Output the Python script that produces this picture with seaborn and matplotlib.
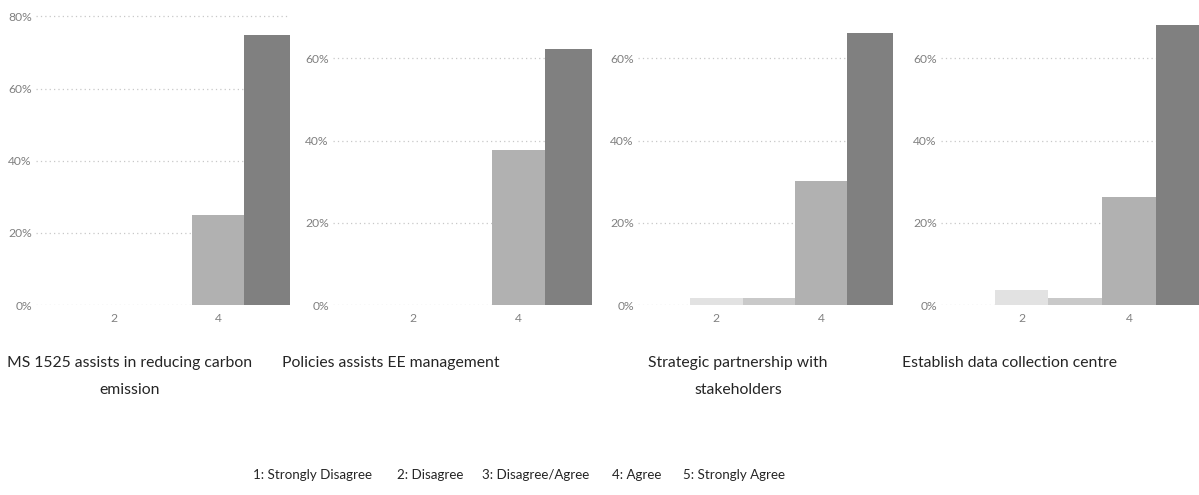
import matplotlib
matplotlib.use("Agg")
import matplotlib.pyplot as plt
import seaborn as sns
import pandas as pd
from matplotlib.ticker import PercentFormatter

# ---- data ----
scores = [1, 2, 3, 4, 5]
titles = [
    "MS 1525 assists in reducing carbon\nemission",
    "Policies assists EE management",
    "Strategic partnership with\nstakeholders",
    "Establish data collection centre",
]
ms1525 = [0.0, 0.0, 0.0, 0.25, 0.75]
policies = [0.0, 0.0, 0.0, 0.377, 0.623]
partnership = [0.0, 0.018, 0.018, 0.301, 0.663]
datacentre = [0.0, 0.036, 0.018, 0.264, 0.682]
series = [ms1525, policies, partnership, datacentre]
legend_labels = ["1: Strongly Disagree", "2: Disagree", "3: Disagree/Agree",
                 "4: Agree", "5: Strongly Agree"]

colors = {1: "#f2f2f2", 2: "#e2e2e2", 3: "#c9c9c9", 4: "#b1b1b1", 5: "#808080"}

sns.set_theme(style="white")
plt.rcParams["font.family"] = ["Lato", "DejaVu Sans"]
title_fs = 11.3
legend_fs = 9.6
tick_fs = 8.7

W, H = 1199, 495
fig = plt.figure(figsize=(W / 100, H / 100), dpi=100)

ax_px = [(36, 290), (333, 592), (638, 893), (941, 1203)]
top_px, bot_px = 10, 305
ymaxes = [0.818, 0.718, 0.718, 0.718]
title_cx = [130, 391, 738, 1010]
line_base = [367, 394]

for i, (vals, (l, r)) in enumerate(zip(series, ax_px)):
    ax = fig.add_axes([l / W, 1 - bot_px / H, (r - l) / W, (bot_px - top_px) / H])
    df = pd.DataFrame({"score": scores, "pct": vals})
    sns.barplot(data=df, x="score", y="pct", hue="score", palette=colors,
                native_scale=True, width=1.0, linewidth=0, legend=False,
                ax=ax, zorder=3)
    ax.set_xlim(0.5, 5.38)
    ax.set_ylim(0, ymaxes[i])
    ax.set_xticks([2, 4])
    ax.set_xticklabels(["2", "4"])
    yt = [0, 0.2, 0.4, 0.6, 0.8]
    ax.set_yticks([t for t in yt if t <= ymaxes[i]])
    ax.yaxis.set_major_formatter(PercentFormatter(1.0, decimals=0))
    ax.tick_params(axis="both", length=0, labelsize=tick_fs, colors="#808080")
    ax.tick_params(axis="y", pad=3)
    ax.tick_params(axis="x", pad=6)
    ax.grid(axis="y", linestyle=(0, (1, 2.5)), color="#c8c8c8", linewidth=0.9, zorder=0)
    ax.set_axisbelow(True)
    for s in ax.spines.values():
        s.set_visible(False)
    ax.set_xlabel("")
    ax.set_ylabel("")
    ax.patch.set_alpha(0)
    for j, line in enumerate(titles[i].split("\n")):
        fig.text(title_cx[i] / W, 1 - line_base[j] / H, line, ha="center",
                 va="baseline", fontsize=title_fs, color="#252525")

legend_x = [253, 397, 482, 612, 683]
for x, lab in zip(legend_x, legend_labels):
    fig.text(x / W, 1 - 475 / H, lab, ha="left", va="center", fontsize=legend_fs,
             color="#252525")

fig.savefig("out.png", dpi=100, facecolor="white")
